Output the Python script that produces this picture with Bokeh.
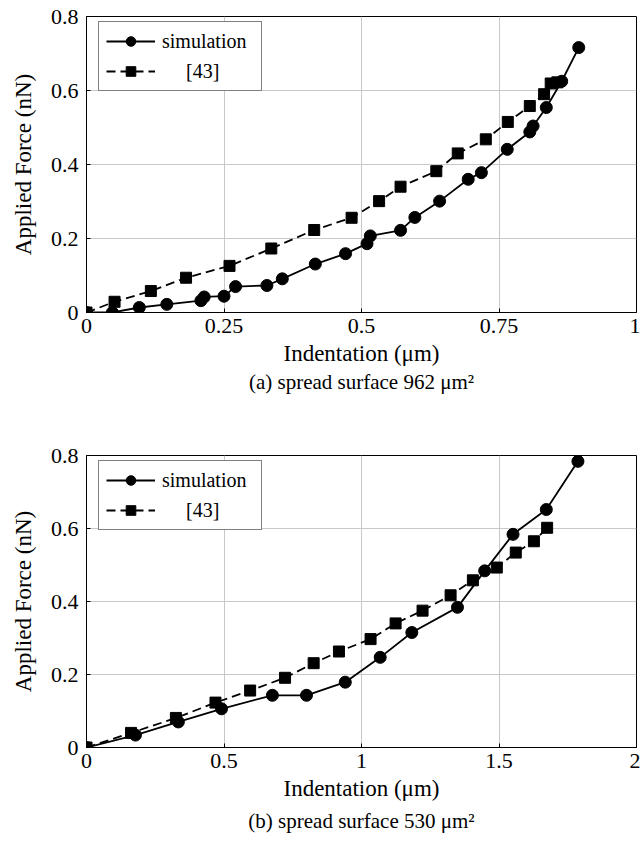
from bokeh.plotting import figure
from bokeh.layouts import column
from bokeh.models import FixedTicker, Legend, LegendItem, LinearAxis
from bokeh.embed import file_html
from bokeh.resources import INLINE

FONT = "Liberation Serif"

# ---- data (a) spread surface 962 um^2 ----
a_sim_x = [0.0, 0.047, 0.096, 0.146, 0.208, 0.214, 0.25, 0.271, 0.328, 0.356, 0.416, 0.471,
           0.510, 0.516, 0.571, 0.597, 0.642, 0.694, 0.718, 0.765, 0.806, 0.812, 0.836, 0.864, 0.895]
a_sim_y = [0.0, 0.0, 0.0135, 0.022, 0.032, 0.042, 0.044, 0.070, 0.073, 0.091, 0.131, 0.159,
           0.186, 0.207, 0.222, 0.257, 0.301, 0.360, 0.378, 0.441, 0.488, 0.504, 0.554, 0.625, 0.716]
a_ref_x = [0.0, 0.051, 0.117, 0.181, 0.260, 0.336, 0.414, 0.482, 0.532, 0.571, 0.636, 0.675,
           0.726, 0.766, 0.806, 0.832, 0.844, 0.856]
a_ref_y = [0.0, 0.029, 0.058, 0.094, 0.126, 0.173, 0.223, 0.256, 0.301, 0.340, 0.382, 0.430,
           0.468, 0.515, 0.558, 0.590, 0.619, 0.622]

# ---- data (b) spread surface 530 um^2 ----
b_sim_x = [0.0, 0.178, 0.334, 0.491, 0.676, 0.800, 0.941, 1.068, 1.183, 1.349, 1.448, 1.551, 1.672, 1.787]
b_sim_y = [0.0, 0.034, 0.070, 0.106, 0.143, 0.143, 0.179, 0.247, 0.315, 0.384, 0.484, 0.584, 0.652, 0.784]
b_ref_x = [0.0, 0.162, 0.325, 0.469, 0.595, 0.722, 0.826, 0.918, 1.033, 1.124, 1.222, 1.324,
           1.405, 1.492, 1.561, 1.627, 1.675]
b_ref_y = [0.0, 0.040, 0.081, 0.123, 0.156, 0.191, 0.231, 0.263, 0.297, 0.340, 0.375, 0.417,
           0.458, 0.493, 0.534, 0.565, 0.602]

y_ticks = [0, 0.2, 0.4, 0.6, 0.8]
y_tick_labels = ["0", "0.2", "0.4", "0.6", "0.8"]
a_x_ticks = [0, 0.25, 0.5, 0.75, 1]
a_x_tick_labels = ["0", "0.25", "0.5", "0.75", "1"]
b_x_ticks = [0, 0.5, 1, 1.5, 2]
b_x_tick_labels = ["0", "0.5", "1", "1.5", "2"]

sim_label = "simulation"
ref_label = "\u2003\u2009[43]"
x_title = "Indentation (\u03bcm)"
y_title = "Applied Force (nN)"
cap_a = "(a) spread surface 962 \u03bcm\u00b2"
cap_b = "(b) spread surface 530 \u03bcm\u00b2"


def make(xs, ys, rxs, rys, xmax, xt, xtl, caption, fh, top, bottom, cap_gap):
    p = figure(width=640, height=top + fh + bottom, x_range=(0, xmax), y_range=(0, 0.8),
               output_backend="svg", toolbar_location=None,
               min_border_left=86, min_border_right=4, min_border_top=top,
               min_border_bottom=bottom)
    p.outline_line_color = "black"
    p.outline_line_width = 1
    p.background_fill_color = "white"
    p.border_fill_color = "white"

    for ax in (p.xaxis[0], p.yaxis[0]):
        ax.axis_line_color = "black"
        ax.major_tick_in = 4
        ax.major_tick_out = 0
        ax.minor_tick_in = 0
        ax.minor_tick_out = 0
        ax.major_tick_line_color = "black"
        ax.major_label_text_font = FONT
        ax.major_label_text_font_size = "22px"
        ax.major_label_text_color = "black"
        ax.axis_label_text_font = FONT
        ax.axis_label_text_font_size = "23px"
        ax.axis_label_text_font_style = "normal"
        ax.axis_label_text_color = "black"

    p.xaxis.ticker = FixedTicker(ticks=xt)
    p.xaxis.major_label_overrides = {float(t): l for t, l in zip(xt, xtl)}
    p.yaxis.ticker = FixedTicker(ticks=y_ticks)
    p.yaxis.major_label_overrides = {float(t): l for t, l in zip(y_ticks, y_tick_labels)}
    p.xaxis.axis_label = x_title
    p.yaxis.axis_label = y_title
    p.xaxis.major_label_standoff = 6
    p.yaxis.major_label_standoff = 8
    p.xaxis.axis_label_standoff = 5
    p.yaxis.axis_label_standoff = 12

    # caption line below the x axis title
    cap = LinearAxis(ticker=FixedTicker(ticks=[]), axis_label=caption)
    cap.axis_line_color = None
    cap.major_tick_line_color = None
    cap.minor_tick_line_color = None
    cap.major_label_text_font_size = "0px"
    cap.axis_label_text_font = FONT
    cap.axis_label_text_font_size = "21px"
    cap.axis_label_text_font_style = "normal"
    cap.axis_label_text_color = "black"
    cap.axis_label_standoff = cap_gap
    cap.major_label_standoff = 0
    p.add_layout(cap, "below")

    p.xgrid.ticker = FixedTicker(ticks=xt)
    p.ygrid.ticker = FixedTicker(ticks=y_ticks)
    p.grid.grid_line_color = "#c8c8c8"
    p.grid.grid_line_width = 1

    l1 = p.line(xs, ys, line_color="black", line_width=1.8)
    s1 = p.scatter(xs, ys, marker="circle", size=12, fill_color="black", line_color="black")
    l2 = p.line(rxs, rys, line_color="black", line_width=1.8, line_dash="9 5")
    s2 = p.scatter(rxs, rys, marker="square", size=11, fill_color="black", line_color="black")

    leg = Legend(items=[LegendItem(label=sim_label, renderers=[l1, s1]),
                        LegendItem(label=ref_label, renderers=[l2, s2])],
                 location=(12, fh - 7 - 68))
    leg.margin = 0
    leg.padding = 7
    leg.spacing = 6
    leg.glyph_width = 49
    leg.glyph_height = 24
    leg.label_height = 24
    leg.label_width = 92
    leg.label_standoff = 7
    leg.label_text_font = FONT
    leg.label_text_font_size = "20px"
    leg.label_text_color = "black"
    leg.border_line_color = "black"
    leg.border_line_width = 1
    leg.background_fill_alpha = 1
    p.add_layout(leg, "center")
    return p


p1 = make(a_sim_x, a_sim_y, a_ref_x, a_ref_y, 1, a_x_ticks, a_x_tick_labels, cap_a, 296, 16, 128, 1)
p2 = make(b_sim_x, b_sim_y, b_ref_x, b_ref_y, 2, b_x_ticks, b_x_tick_labels, cap_b, 292, 15, 99, 5)

layout = column(p1, p2, spacing=0)
open("out.html", "w").write(file_html(layout, INLINE))
